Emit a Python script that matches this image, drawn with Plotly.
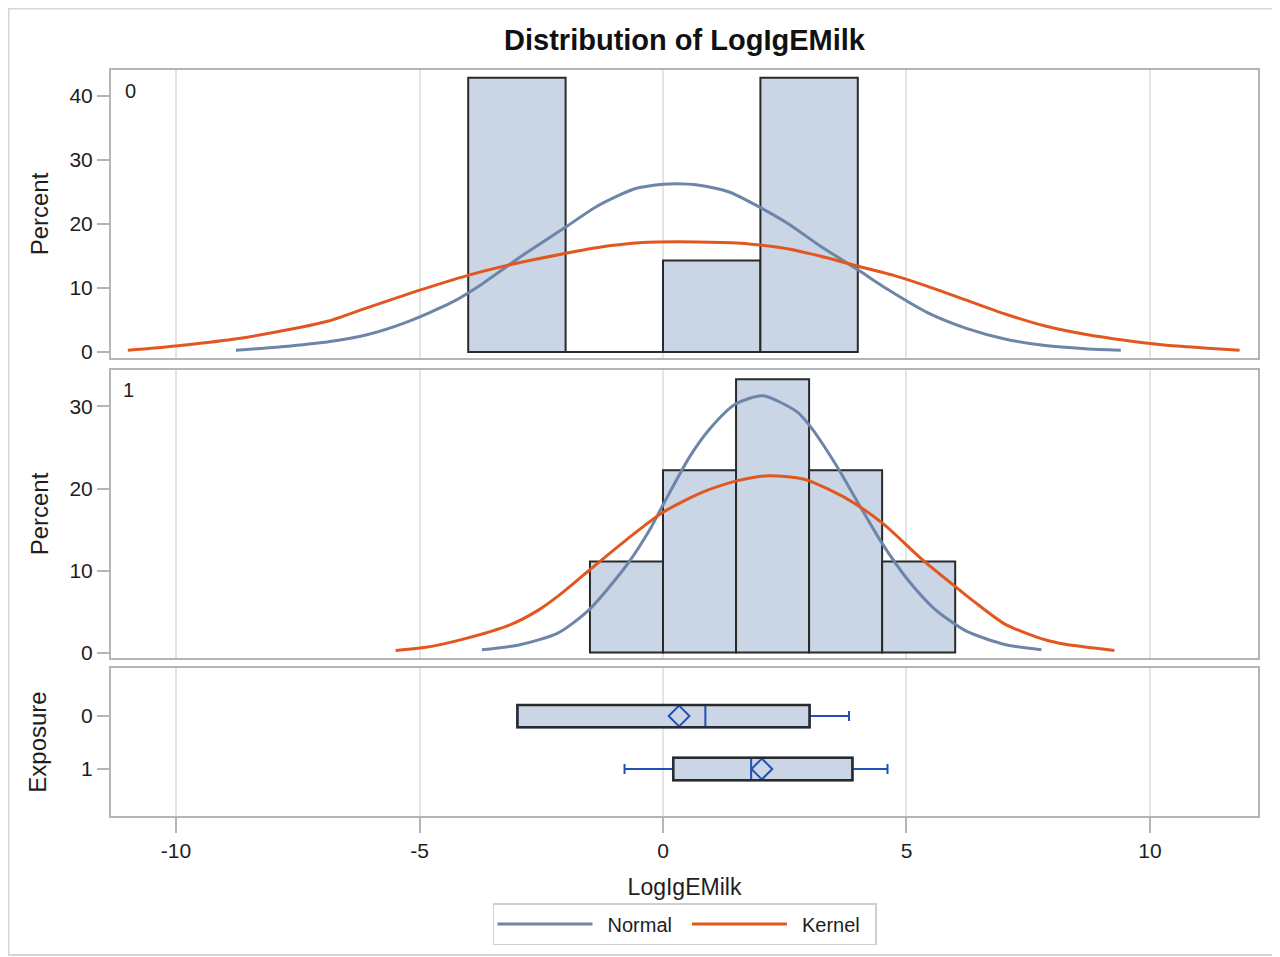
import plotly.graph_objects as go

# ---------------- data ----------------
# histogram bins (Percent) by Exposure group
bin0_edges = [-4.0, -2.0, 0.0, 2.0, 4.0]
pct0 = [42.86, 0.0, 14.29, 42.86]
bin1_edges = [-1.5, 0.0, 1.5, 3.0, 4.5, 6.0]
pct1 = [11.11, 22.22, 33.33, 22.22, 11.11]

# fitted normal / kernel curves (Percent)
normal0_x = [-8.77, -7.65, -6.87, -6.08, -5.29, -4.35, -3.72, -2.94, -2.02, -1.37, -0.58, 0.0, 0.3,
             0.71, 1.36, 1.99, 2.58, 3.22, 4.01, 4.61, 5.42, 6.23, 7.04, 7.85, 8.67, 9.40]
normal0_y = [0.26, 0.95, 1.6, 2.7, 4.6, 7.7, 10.6, 14.8, 19.4, 22.7, 25.5, 26.2, 26.3,
             26.1, 25.0, 22.6, 20.0, 16.6, 12.8, 9.8, 6.2, 3.7, 2.0, 1.0, 0.5, 0.26]
kernel0_x = [-10.99, -10.01, -8.83, -7.65, -6.87, -6.08, -5.06, -4.04, -3.10, -2.02, -1.37, -0.42,
             0.68, 1.60, 2.00, 2.58, 3.22, 4.01, 4.77, 5.42, 6.23, 7.04, 7.85, 8.67, 9.48, 10.29,
             11.11, 11.84]
kernel0_y = [0.26, 0.94, 1.98, 3.54, 4.84, 6.9, 9.5, 11.9, 13.7, 15.4, 16.3, 17.1,
             17.2, 17.0, 16.7, 16.1, 15.0, 13.4, 11.9, 10.3, 8.1, 5.9, 4.06, 2.76, 1.82, 1.09,
             0.63, 0.26]
normal1_x = [-3.72, -2.94, -2.15, -1.52, -0.74, -0.27, 0.0, 0.54, 0.95, 1.49, 2.05, 2.74, 3.02,
             3.55, 4.04, 4.50, 5.01, 5.58, 6.23, 7.04, 7.77]
normal1_y = [0.33, 0.94, 2.4, 5.2, 10.7, 15.0, 18.0, 23.8, 27.2, 30.3, 31.3, 29.4, 27.6,
             22.9, 17.9, 13.3, 9.0, 5.3, 2.6, 0.95, 0.33]
kernel1_x = [-5.49, -4.90, -4.12, -3.13, -2.55, -2.15, -1.84, -1.52, -0.74, 0.0, 0.79, 1.49, 1.85,
             2.17, 2.45, 2.74, 3.02, 3.79, 4.50, 5.33, 6.01, 6.39, 7.04, 7.85, 8.26, 9.27]
kernel1_y = [0.24, 0.6, 1.6, 3.4, 5.2, 6.9, 8.4, 10.0, 13.8, 17.1, 19.5, 20.9, 21.35,
             21.55, 21.5, 21.3, 20.9, 18.7, 15.8, 11.3, 8.0, 6.2, 3.4, 1.55, 1.0, 0.24]

# box plot statistics by Exposure
exposure = [0, 1]
exposure_labels = ["0", "1"]
q1 = [-2.99, 0.21]
median = [0.87, 1.81]
q3 = [3.01, 3.89]
lowerfence = [-2.99, -0.79]
upperfence = [3.82, 4.61]
mean = [0.33, 2.03]

xtick_vals = [-10, -5, 0, 5, 10]
xtick_text = ["-10", "-5", "0", "5", "10"]
y1_ticks = [0, 10, 20, 30, 40]
y2_ticks = [0, 10, 20, 30]

# ---------------- style ----------------
FONT = "Liberation Sans, Arial, sans-serif"
BAR_FILL = "#cad5e5"
BAR_LINE = "#2a2a2a"
NORMAL_C = "#6c85a9"
KERNEL_C = "#e2571f"
BOX_BLUE = "#2350b4"
FRAME_C = "#b3b6b9"
GRID_C = "#e4e4e4"
TXT = "#1e1e1e"
SM = 0.7
SP = "\u2002"  # en space used as legend padding

def mids(edges):
    return [(a + b) / 2 for a, b in zip(edges[:-1], edges[1:])]

def widths(edges):
    return [b - a for a, b in zip(edges[:-1], edges[1:])]

fig = go.Figure()

# panel 1 (Exposure 0)
fig.add_trace(go.Bar(x=mids(bin0_edges), y=pct0, width=widths(bin0_edges),
                     marker=dict(color=BAR_FILL, line=dict(color=BAR_LINE, width=2)),
                     showlegend=False, xaxis="x", yaxis="y"))
fig.add_trace(go.Scatter(x=normal0_x, y=normal0_y, mode="lines", name=SP + "Normal" + SP,
                         line=dict(color=NORMAL_C, width=3, shape="spline", smoothing=SM),
                         legendgroup="n", xaxis="x", yaxis="y"))
fig.add_trace(go.Scatter(x=kernel0_x, y=kernel0_y, mode="lines", name=SP + "Kernel" + SP,
                         line=dict(color=KERNEL_C, width=3, shape="spline", smoothing=SM),
                         legendgroup="k", xaxis="x", yaxis="y"))

# panel 2 (Exposure 1)
fig.add_trace(go.Bar(x=mids(bin1_edges), y=pct1, width=widths(bin1_edges),
                     marker=dict(color=BAR_FILL, line=dict(color=BAR_LINE, width=2)),
                     showlegend=False, xaxis="x2", yaxis="y2"))
fig.add_trace(go.Scatter(x=normal1_x, y=normal1_y, mode="lines", name="Normal",
                         line=dict(color=NORMAL_C, width=3, shape="spline", smoothing=SM),
                         legendgroup="n", showlegend=False, xaxis="x2", yaxis="y2"))
fig.add_trace(go.Scatter(x=kernel1_x, y=kernel1_y, mode="lines", name="Kernel",
                         line=dict(color=KERNEL_C, width=3, shape="spline", smoothing=SM),
                         legendgroup="k", showlegend=False, xaxis="x2", yaxis="y2"))

# panel 3 (box plots)
fig.add_trace(go.Box(y=exposure, q1=q1, median=median, q3=q3,
                     lowerfence=lowerfence, upperfence=upperfence,
                     orientation="h", width=0.42, whiskerwidth=0.45,
                     fillcolor=BAR_FILL, line=dict(color=BOX_BLUE, width=2),
                     boxpoints=False, showlegend=False, xaxis="x3", yaxis="y3"))
fig.add_trace(go.Scatter(x=mean, y=exposure, mode="markers",
                         marker=dict(symbol="diamond-open", size=16, color=BOX_BLUE,
                                     line=dict(width=2, color=BOX_BLUE)),
                         showlegend=False, xaxis="x3", yaxis="y3"))

# page body has an 8px offset; figure coords = screen coords - 8
OFF = 8
L, R, T, B = 111 - OFF, 1258 - OFF, 70 - OFF, 816 - OFF
W_PLOT = R - L
H_PLOT = B - T

shapes = []
for i, pos in enumerate(exposure):
    shapes.append(dict(type="rect", xref="x3", yref="y3", x0=q1[i], x1=q3[i],
                       y0=pos - 0.21, y1=pos + 0.21, line=dict(color=BAR_LINE, width=2.5),
                       layer="above"))
# outer image border
shapes.append(dict(type="rect", xref="paper", yref="paper",
                   x0=(0.5 - L) / W_PLOT, x1=(1277 - OFF - L) / W_PLOT,
                   y0=(B - (955 - OFF)) / H_PLOT, y1=(B - 0.5) / H_PLOT,
                   line=dict(color="#d6d6d6", width=2), layer="below"))

XR = [-11.335, 12.218]
xcommon = dict(range=XR, tickvals=xtick_vals, ticktext=xtick_text, showgrid=True,
               gridcolor=GRID_C, gridwidth=1.5, zeroline=False, showline=True, mirror=True,
               linecolor=FRAME_C, linewidth=2)
ycommon = dict(showgrid=False, zeroline=False, showline=True, mirror=True, linecolor=FRAME_C,
               linewidth=2, ticks="outside", ticklen=12, tickwidth=1.5, tickcolor=FRAME_C,
               tickfont=dict(family=FONT, size=21, color=TXT))
ytitle_font = dict(family=FONT, size=24, color=TXT)

fig.update_layout(
    width=1280, height=957,
    margin=dict(l=L, r=1280 - R, t=T, b=957 - B),
    paper_bgcolor="white", plot_bgcolor="white",
    barmode="overlay",
    font=dict(family=FONT, color=TXT),
    title=dict(text="Distribution of LogIgEMilk", x=0.5, xanchor="center", xref="paper",
               y=1 - (40 - OFF) / 957, yanchor="middle", yref="container",
               font=dict(family=FONT, size=29, color="#111", weight="bold")),
    xaxis=dict(**xcommon, anchor="y", matches="x3", showticklabels=False, ticks=""),
    xaxis2=dict(**xcommon, anchor="y2", matches="x3", showticklabels=False, ticks=""),
    xaxis3=dict(**xcommon, anchor="y3", ticks="outside", ticklen=15, tickwidth=1.5,
                tickcolor=FRAME_C, tickfont=dict(family=FONT, size=21, color=TXT),
                title=dict(text="LogIgEMilk", font=dict(family=FONT, size=23, color=TXT),
                           standoff=18)),
    yaxis=dict(**ycommon, domain=[(B - (358 - OFF)) / H_PLOT, 1.0], range=[-0.94, 44.06],
               tickvals=y1_ticks,
               title=dict(text="Percent", font=ytitle_font, standoff=14)),
    yaxis2=dict(**ycommon, domain=[(B - (658 - OFF)) / H_PLOT, (B - (370 - OFF)) / H_PLOT],
                range=[-0.67, 34.45], tickvals=y2_ticks,
                title=dict(text="Percent", font=ytitle_font, standoff=14)),
    yaxis3=dict(**ycommon, domain=[0.0, (B - (668 - OFF)) / H_PLOT], range=[1.887, -0.906],
                type="linear", tickvals=exposure, ticktext=exposure_labels,
                title=dict(text="Exposure", font=ytitle_font, standoff=28)),
    legend=dict(orientation="h", x=0.5, xanchor="center", y=(B - (903 - OFF)) / H_PLOT,
                yanchor="top", bordercolor="#cfcfcf", borderwidth=1.5, itemwidth=95,
                font=dict(family=FONT, size=20, color=TXT), bgcolor="white"),
    shapes=shapes,
    annotations=[
        dict(text="0", xref="x domain", yref="y domain", x=(130 - 111) / W_PLOT,
             y=1 - (91 - 70) / 288, xanchor="center", yanchor="middle", showarrow=False,
             font=dict(family=FONT, size=20, color=TXT)),
        dict(text="1", xref="x2 domain", yref="y2 domain", x=(128 - 111) / W_PLOT,
             y=1 - (390 - 370) / 288, xanchor="center", yanchor="middle", showarrow=False,
             font=dict(family=FONT, size=20, color=TXT)),
    ],
)

fig.write_html("out.html")
